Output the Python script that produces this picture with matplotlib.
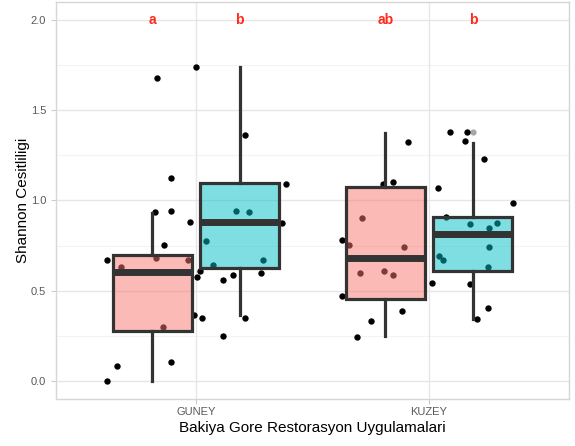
import matplotlib
matplotlib.use("Agg")
import matplotlib.pyplot as plt
import numpy as np

plt.rcParams['font.family'] = ['Liberation Sans', 'DejaVu Sans']

categories = ["GUNEY", "KUZEY"]
fill_colors = ["#F8766D", "#00BFC4"]

# box statistics per category: [first group, second group]
medians = [[0.603, 0.880], [0.684, 0.814]]
q1s = [[0.278, 0.626], [0.454, 0.607]]
q3s = [[0.699, 1.099], [1.077, 0.906]]
whis_lo = [[0.0, 0.365], [0.247, 0.345]]
whis_hi = [[0.930, 1.738], [1.373, 1.321]]
fliers = [[[], []], [[], [1.381]]]

letters = [["a", "b"], ["ab", "b"]]

# jittered observations: horizontal offset from category centre, value
guney_offset = [-0.382, -0.339, -0.108, -0.380, -0.320, -0.171, -0.033, -0.143,
                -0.137, -0.174, -0.108, -0.107, -0.168, 0.000, -0.026, -0.007,
                0.024, 0.116, 0.004, 0.018, 0.117, 0.157, 0.280, 0.042,
                0.074, 0.171, 0.228, 0.286, 0.369, 0.388, 0.210, 0.211]
guney_shannon = [0.000, 0.085, 0.105, 0.671, 0.629, 0.684, 0.668, 0.299,
                 0.753, 0.936, 0.944, 1.127, 1.681, 1.738, 0.883, 0.365,
                 0.349, 0.247, 0.577, 0.609, 0.562, 0.588, 0.598, 0.773,
                 0.642, 0.943, 0.936, 0.673, 0.878, 1.090, 1.362, 0.349]
kuzey_offset = [-0.308, -0.251, -0.117, -0.374, -0.374, -0.342, -0.288, -0.295,
                -0.194, -0.153, -0.108, -0.197, -0.155, -0.091, 0.036, 0.014,
                0.073, 0.090, 0.164, 0.154, 0.235, 0.360, 0.177, 0.254,
                0.205, 0.177, 0.258, 0.290, 0.257, 0.044, 0.060, 0.251]
kuzey_shannon = [0.244, 0.332, 0.385, 0.471, 0.781, 0.753, 0.904, 0.600,
                 0.611, 0.588, 0.742, 1.091, 1.103, 1.326, 1.068, 0.544,
                 0.908, 1.378, 1.380, 1.330, 1.231, 0.987, 0.537, 0.404,
                 0.343, 0.869, 0.845, 0.878, 0.745, 0.695, 0.668, 0.634]

dodge = 0.1875
box_width = 0.3375

fig = plt.figure(figsize=(5.75, 4.46), dpi=100)
ax = fig.add_axes([0.0974, 0.1054, 0.8922, 0.8901])

# grid
for v in np.arange(0.25, 2.1, 0.5):
    ax.axhline(v, color="#F3F3F3", lw=0.8, zorder=0)
for v in np.arange(0, 2.01, 0.5):
    ax.axhline(v, color="#E6E6E6", lw=1.0, zorder=0)
for xc in [1, 2]:
    ax.axvline(xc, color="#E6E6E6", lw=1.0, zorder=0)

# points under the boxes
ax.scatter(1 + np.array(guney_offset), guney_shannon, s=21, color="black",
           linewidths=0, zorder=2)
ax.scatter(2 + np.array(kuzey_offset), kuzey_shannon, s=21, color="black",
           linewidths=0, zorder=2)

for i in range(len(categories)):
    for j in range(2):
        pos = i + 1 + (j * 2 - 1) * dodge
        stats = [dict(med=medians[i][j], q1=q1s[i][j], q3=q3s[i][j],
                      whislo=whis_lo[i][j], whishi=whis_hi[i][j],
                      fliers=fliers[i][j])]
        ax.bxp(stats, positions=[pos], widths=box_width, patch_artist=True,
               showcaps=False, manage_ticks=False, zorder=3,
               boxprops=dict(facecolor=matplotlib.colors.to_rgba(fill_colors[j], 0.5),
                             edgecolor="#333333", linewidth=2.3),
               whiskerprops=dict(color="#333333", linewidth=2.3),
               medianprops=dict(color="#333333", linewidth=5),
               flierprops=dict(marker="o", markerfacecolor="black",
                               markeredgecolor="none", markersize=4.5, alpha=0.35))
        ax.text(pos, 2.0, letters[i][j], color="#FF2A1A", fontsize=10,
                fontweight="bold", ha="center", va="center", zorder=4)

ax.set_xlim(0.4, 2.6)
ax.set_ylim(-0.1, 2.1)
ax.set_xticks([1, 2])
ax.set_xticklabels(categories)
ax.set_yticks([0, 0.5, 1.0, 1.5, 2.0])
ax.set_yticklabels(["0.0", "0.5", "1.0", "1.5", "2.0"])
ax.tick_params(colors="#595959", labelsize=8, length=3.5, width=0.8)
ax.tick_params(axis="both", color="#CCCCCC")
ax.tick_params(axis="x", pad=2)
for s in ax.spines.values():
    s.set_color("#D6D6D6")
    s.set_linewidth(1.0)

ax.set_xlabel("Bakiya Gore Restorasyon Uygulamalari", fontsize=11, labelpad=3.5)
ax.set_ylabel("Shannon Cesitliligi", fontsize=11, labelpad=0.5)

fig.savefig("out.png", dpi=100)
